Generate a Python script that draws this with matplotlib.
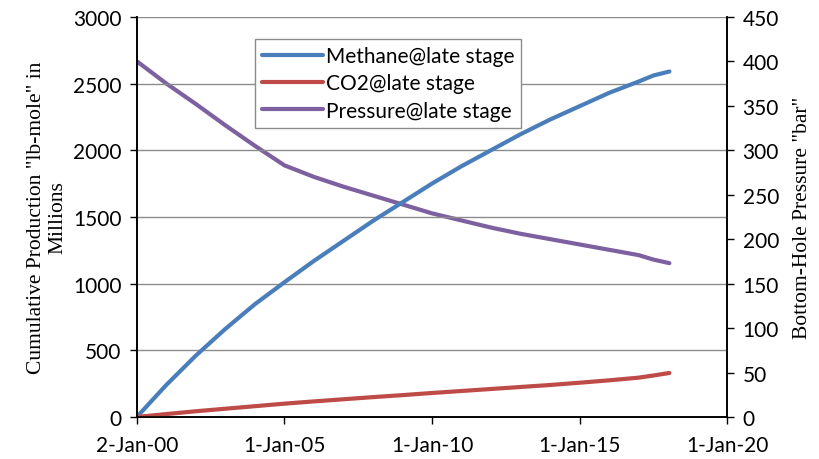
import matplotlib
matplotlib.use("Agg")
import matplotlib.pyplot as plt
import pandas as pd

# Data
dates = ["2000-01-02", "2001-01-01", "2002-01-01", "2003-01-01", "2004-01-01",
         "2005-01-01", "2006-01-01", "2007-01-01", "2008-01-01", "2009-01-01",
         "2010-01-01", "2011-01-01", "2012-01-01", "2013-01-01", "2014-01-01",
         "2015-01-01", "2016-01-01", "2017-01-01", "2017-07-01", "2018-01-15"]
methane = [0, 240, 460, 660, 845, 1010, 1170, 1320, 1470, 1610,
           1750, 1880, 2000, 2120, 2230, 2330, 2430, 2515, 2560, 2590]
co2 = [0, 22, 43, 62, 81, 100, 117, 133, 149, 164,
       180, 195, 210, 225, 240, 257, 275, 295, 311, 330]
pressure = [400, 375, 352, 328, 305, 283, 270, 259, 249, 239,
            229, 221, 213, 206, 200, 194, 188, 182, 177, 173]

tick_dates = ["2000-01-02", "2005-01-01", "2010-01-01", "2015-01-01", "2020-01-01"]
tick_labels = ["2-Jan-00", "1-Jan-05", "1-Jan-10", "1-Jan-15", "1-Jan-20"]

BLUE = "#4A7EBB"
RED = "#BE4B48"
PURPLE = "#7D60A0"

x = pd.to_datetime(dates)
xt = pd.to_datetime(tick_dates)

fig = plt.figure(figsize=(8.19, 4.6), dpi=100)
ax = fig.add_axes([0.167, 0.0913, 0.721, 0.870])
ax2 = ax.twinx()

tick_font = "Lato"
label_font = "Liberation Serif"

l1, = ax.plot(x, methane, color=BLUE, lw=3, solid_capstyle="round", label="Methane@late stage")
l2, = ax.plot(x, co2, color=RED, lw=3, solid_capstyle="round", label="CO2@late stage")
l3, = ax2.plot(x, pressure, color=PURPLE, lw=3, solid_capstyle="round", label="Pressure@late stage")

ax.set_xlim(xt[0], xt[-1])
ax.set_ylim(0, 3000)
ax2.set_ylim(0, 450)
ax.set_yticks(range(0, 3001, 500))
ax2.set_yticks(range(0, 451, 50))
ax.set_xticks(xt)
ax.set_xticklabels(tick_labels)

ax.grid(axis="y", color="#8c8c8c", lw=1.0)
ax.set_axisbelow(True)

for a in (ax, ax2):
    a.spines["top"].set_visible(False)
    for s in ("left", "right", "bottom"):
        a.spines[s].set_color("black")
        a.spines[s].set_linewidth(1.2)
    a.tick_params(direction="out", length=5, width=1, labelsize=15)
    for lab in a.get_xticklabels() + a.get_yticklabels():
        lab.set_fontfamily(tick_font)

ax.tick_params(axis="x", pad=8)
ax.tick_params(axis="y", pad=6)
ax2.tick_params(axis="y", pad=6)

ax.set_ylabel('Cumulative Production "lb-mole" in\nMillions', fontsize=15.5,
              fontfamily=label_font, labelpad=4)
ax2.set_ylabel('Bottom-Hole Pressure "bar"', fontsize=15.5, fontfamily=label_font, labelpad=10)

leg = ax.legend(handles=[l1, l2, l3], loc="upper left", bbox_to_anchor=(0.2, 0.945),
                frameon=True, fancybox=False, framealpha=1, edgecolor="#8c8c8c",
                prop={"family": tick_font, "size": 15}, handlelength=2.9,
                handletextpad=0.15, borderpad=0.35, labelspacing=0.35, borderaxespad=0)
leg.get_frame().set_linewidth(1.0)
leg.set_zorder(5)
ax.set_zorder(ax2.get_zorder() + 1)
ax.patch.set_visible(False)

fig.savefig("out.png", dpi=100)
